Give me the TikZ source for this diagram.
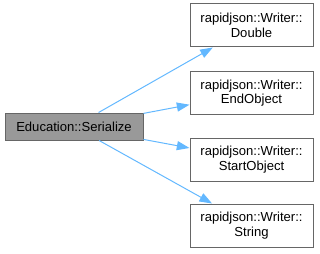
\documentclass[tikz,border=0pt]{standalone}
\usepackage{fontspec}
\setmainfont{Liberation Sans}
\usepackage{tikz}
\usetikzlibrary{arrows.meta}
\definecolor{boxgray}{HTML}{999999}
\definecolor{edgegray}{HTML}{666666}
\definecolor{callblue}{HTML}{63B8FF}

\tikzset{
  fn/.style={draw=edgegray, line width=0.75pt, inner sep=0pt, align=center,
    font=\fontsize{9.8}{11}\selectfont},
  caller/.style={fn, fill=boxgray, minimum width=103.5pt, minimum height=20.25pt},
  callee/.style={fn, fill=white, minimum width=92.25pt, minimum height=32.25pt},
  call/.style={callblue, line width=0.75pt, -{Triangle[length=9.5pt, width=6.8pt]}},
}

\begin{document}
\begin{tikzpicture}[x=0.75pt, y=-0.75pt]
  \useasboundingbox (0,0) rectangle (320,253);
  \node[caller] (ser) at (74,126.5) {Education::Serialize};
  \foreach \n/\y/\t in {dbl/25.5/Double, endobj/93/EndObject, startobj/159.5/StartObject, str/225.5/String} {
    \node[callee] (\n) at (251.5,\y) {rapidjson::Writer::\\\t};
    \draw[call] (ser) -- (\n);
  }
\end{tikzpicture}
\end{document}
